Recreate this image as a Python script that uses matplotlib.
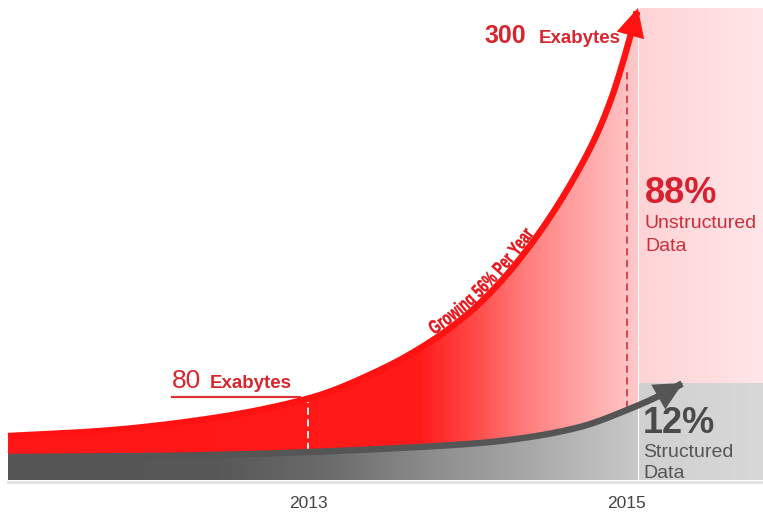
import numpy as np
import matplotlib
matplotlib.use("Agg")
import matplotlib.pyplot as plt
from matplotlib.patches import FancyArrowPatch, PathPatch
from matplotlib.path import Path
from matplotlib.colors import LinearSegmentedColormap
from matplotlib.textpath import TextPath
from matplotlib.font_manager import FontProperties
from matplotlib.transforms import IdentityTransform

# ---------------- data (x in years, y in relative volume units) ----------------
red_years = [2011.119, 2011.696, 2012.323, 2013.013, 2013.451, 2013.765, 2014.016,
             2014.223, 2014.436, 2014.643, 2014.812, 2014.912, 2014.975, 2015.069]
red_vals = [44, 49, 60, 82, 110, 138, 168, 201, 244, 295, 346, 386, 418, 472]
gray_years = [2011.119, 2012.009, 2012.636, 2013.013, 2013.451, 2014.078, 2014.392,
              2014.705, 2015.000, 2015.251, 2015.351]
gray_vals = [23, 24, 26, 28, 31, 37, 43, 53, 70, 88, 97]
tick_years = [2013, 2015]
tick_labels = ["2013", "2015"]
callout_small = ("80", "Exabytes")
callout_big = ("300", "Exabytes")
share_unstructured = ("88%", "Unstructured", "Data")
share_structured = ("12%", "Structured", "Data")
growth_label = "Growing 56% Per Year"

X_MIN, X_MAX = 2011.069, 2015.853
Y_MIN, Y_MAX = -33, 480
PX_PER_YEAR = 159.5

plt.rcParams['font.family'] = ['Liberation Sans', 'DejaVu Sans']


def pchip(xs, ys, xq):
    xs = np.asarray(xs, float); ys = np.asarray(ys, float)
    h = np.diff(xs); d = np.diff(ys) / h
    m = np.zeros_like(ys)
    m[0], m[-1] = d[0], d[-1]
    for k in range(1, len(xs) - 1):
        if d[k - 1] * d[k] > 0:
            w1 = 2 * h[k] + h[k - 1]; w2 = h[k] + 2 * h[k - 1]
            m[k] = (w1 + w2) / (w1 / d[k - 1] + w2 / d[k])
    idx = np.clip(np.searchsorted(xs, xq) - 1, 0, len(xs) - 2)
    t = (xq - xs[idx]) / h[idx]
    h00 = 2 * t**3 - 3 * t**2 + 1; h10 = t**3 - 2 * t**2 + t
    h01 = -2 * t**3 + 3 * t**2; h11 = t**3 - t**2
    return (h00 * ys[idx] + h10 * h[idx] * m[idx] + h01 * ys[idx + 1]
            + h11 * h[idx] * m[idx + 1])


def curve(xs, ys, n=600):
    xq = np.linspace(xs[0], xs[-1], n)
    return np.column_stack([xq, pchip(xs, ys, xq)])


def hex2rgb(h):
    h = h.lstrip('#')
    return tuple(int(h[i:i + 2], 16) / 255 for i in (0, 2, 4))


def gradient(ax, x0, x1, y0, y1, stops, clip=None, zorder=2):
    span = x1 - x0
    cmap = LinearSegmentedColormap.from_list(
        "g", [((s - x0) / span, hex2rgb(c)) for s, c in stops])
    arr = np.linspace(0, 1, 512)[None, :]
    im = ax.imshow(arr, cmap=cmap, extent=[x0, x1, y0, y1], aspect='auto',
                   origin='lower', zorder=zorder, interpolation='bilinear')
    if clip is not None:
        im.set_clip_path(clip)
    return im


def px2yr(px):
    return tick_years[0] + (px - 308) / PX_PER_YEAR


fig = plt.figure(figsize=(7.63, 5.13), dpi=100)
ax = fig.add_axes([0, 0, 1, 1])
ax.set_xlim(X_MIN, X_MAX)
ax.set_ylim(Y_MIN, Y_MAX)
ax.axis('off')

red_pts = curve(red_years, red_vals)
gray_pts = curve(gray_years, gray_vals)
x_left = red_years[0]
x_split = red_years[-1]
top = red_vals[-1]

# right-hand panels
gradient(ax, x_split, X_MAX, gray_vals[-1], top,
         [(x_split, '#ffd3d6'), (X_MAX, '#ffe6e8')], zorder=1)
gradient(ax, x_split, X_MAX, 0, gray_vals[-1],
         [(x_split, '#d0d0d0'), (X_MAX, '#d8d8d8')], zorder=1)
ax.plot([x_split, x_split], [0, top], color='white', lw=0.8, zorder=1.5)

# red gradient area under red curve
rp = np.vstack([red_pts, [[x_split, 0], [x_left, 0]]])
red_patch = PathPatch(Path(rp), transform=ax.transData, facecolor='none', edgecolor='none')
ax.add_patch(red_patch)
gradient(ax, x_left, x_split, 0, top,
         [(x_left, '#ff1616'), (2013.70, '#ff1a1a'), (2014.05, '#ff4a4a'),
          (2014.35, '#ff7a7a'), (2014.70, '#ffa2a2'), (2014.95, '#ffbcbc'),
          (x_split, '#ffc8c8')], clip=red_patch, zorder=2)

# gray gradient area under gray curve
gsel = gray_pts[gray_pts[:, 0] <= x_split]
gp = np.vstack([gsel, [[x_split, pchip(gray_years, gray_vals, np.array([x_split]))[0]],
                       [x_split, 0], [x_left, 0]]])
gray_patch = PathPatch(Path(gp), transform=ax.transData, facecolor='none', edgecolor='none')
ax.add_patch(gray_patch)
gradient(ax, x_left, x_split, 0, 100,
         [(x_left, '#555555'), (2012.45, '#585858'), (2013.10, '#6a6a6a'),
          (2013.72, '#8a8a8a'), (2014.35, '#a6a6a6'), (x_split, '#c8c8c8')],
         clip=gray_patch, zorder=3)

# baseline shadow
ax.plot([x_left, X_MAX], [-2, -2], color='#e2e2e2', lw=2, zorder=1)

# dashed guides
r13 = np.interp(tick_years[0], red_pts[:, 0], red_pts[:, 1])
g13 = np.interp(tick_years[0], gray_pts[:, 0], gray_pts[:, 1])
ax.plot([tick_years[0]] * 2, [g13 + 2, r13 - 3], color='white', lw=1.3,
        dashes=(4, 2.5), zorder=4)
r15 = np.interp(tick_years[1], red_pts[:, 0], red_pts[:, 1])
g15 = np.interp(tick_years[1], gray_pts[:, 0], gray_pts[:, 1])
ax.plot([tick_years[1]] * 2, [g15 + 2, r15 - 22], color='#d23c4c', lw=1.3,
        dashes=(4, 2.5), zorder=4)

# curves with arrowheads
for pts, col in ((red_pts, '#ff1212'), (gray_pts, '#555555')):
    arr = FancyArrowPatch(path=Path(pts), arrowstyle='-|>,head_length=1.3,head_width=0.65',
                          mutation_scale=10, lw=4.6, color=col, transform=ax.transData,
                          zorder=5, joinstyle='miter', capstyle='butt')
    ax.add_patch(arr)

# callouts
red_txt = '#d8262f'
ax.text(px2yr(172), 92, callout_small[0], fontsize=19, color=red_txt, ha='left',
        va='baseline', zorder=6)
ax.text(px2yr(210), 92, callout_small[1], fontsize=13.5, fontweight='bold', color=red_txt,
        ha='left', va='baseline', zorder=6)
ax.plot([px2yr(172), px2yr(300)], [83, 83], color='#e03038', lw=1.6, zorder=6)

ax.text(px2yr(485), 437, callout_big[0], fontsize=18, fontweight='bold',
        color=red_txt, ha='left', va='baseline', zorder=6)
ax.text(px2yr(539), 437, callout_big[1], fontsize=13.5, fontweight='bold',
        color=red_txt, ha='left', va='baseline', zorder=6)

# growth label bent along the red curve
disp = ax.transData.transform(red_pts)
seg = np.diff(disp, axis=0)
sarc = np.concatenate([[0], np.cumsum(np.hypot(seg[:, 0], seg[:, 1]))])
tp = TextPath((0, 0), growth_label, size=19.5,
              prop=FontProperties(family='Liberation Sans', weight='bold'))
verts = tp.vertices.copy()
s0 = np.interp(436, disp[:, 0], sarc)
ss = s0 + verts[:, 0] * 0.70
px_ = np.interp(ss, sarc, disp[:, 0]); py_ = np.interp(ss, sarc, disp[:, 1])
tx = np.interp(ss + 2, sarc, disp[:, 0]) - np.interp(ss - 2, sarc, disp[:, 0])
ty = np.interp(ss + 2, sarc, disp[:, 1]) - np.interp(ss - 2, sarc, disp[:, 1])
nrm = np.hypot(tx, ty); tx /= nrm; ty /= nrm
off = verts[:, 1] + 3.5
new = np.column_stack([px_ - ty * off, py_ + tx * off])
ax.add_patch(PathPatch(Path(new, tp.codes), transform=IdentityTransform(),
                       facecolor='#e8141c', edgecolor='#e8141c', lw=0.3, zorder=6))

# share labels
xs = px2yr(645)
ax.text(xs, 277, share_unstructured[0], fontsize=26, fontweight='bold', color='#d9202e',
        ha='left', va='baseline', zorder=6)
ax.text(xs, 252, share_unstructured[1], fontsize=14, color='#c9303c', ha='left',
        va='baseline', zorder=6)
ax.text(xs, 229, share_unstructured[2], fontsize=14, color='#c9303c', ha='left',
        va='baseline', zorder=6)
xs2 = px2yr(643)
ax.text(xs2, 47, share_structured[0], fontsize=26, fontweight='bold', color='#4a4a4a',
        ha='left', va='baseline', zorder=6)
ax.text(xs2, 23, share_structured[1], fontsize=14, color='#555555', ha='left',
        va='baseline', zorder=6)
ax.text(xs2, 2, share_structured[2], fontsize=14, color='#555555', ha='left',
        va='baseline', zorder=6)

for yr, lab in zip(tick_years, tick_labels):
    ax.text(yr, -24, lab, fontsize=12.5, color='#444444', ha='center', va='center', zorder=6)

fig.savefig('out.png', dpi=100)
